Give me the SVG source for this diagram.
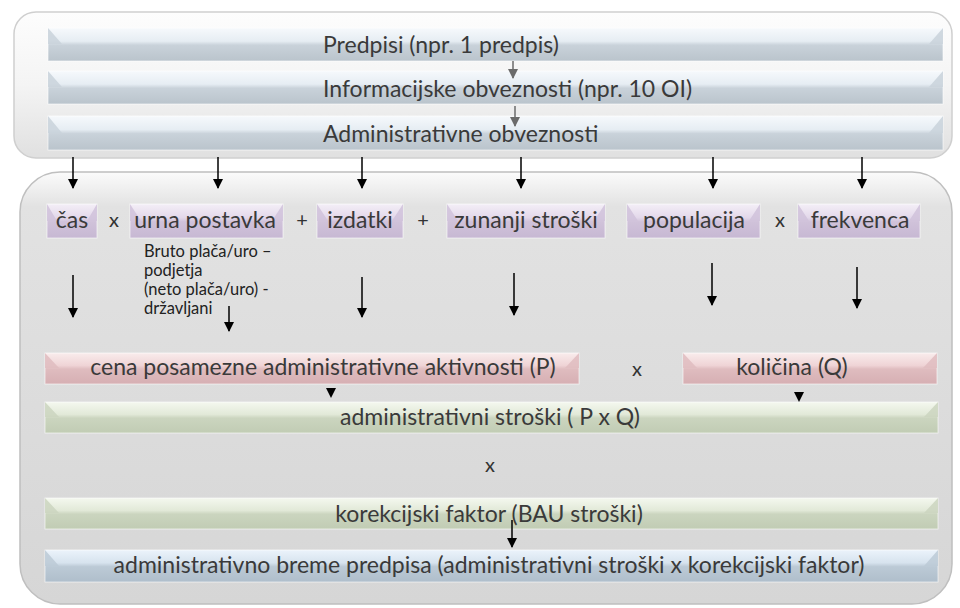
<svg xmlns="http://www.w3.org/2000/svg" width="960" height="608" viewBox="0 0 960 608">
<defs>
<linearGradient id="gOuter1" x1="0" y1="0" x2="0" y2="1">
<stop offset="0" stop-color="#fdfdfd"/><stop offset="0.5" stop-color="#f4f4f4"/><stop offset="1" stop-color="#e0e0e0"/>
</linearGradient>
<linearGradient id="gOuter2" x1="0" y1="0" x2="0" y2="1">
<stop offset="0" stop-color="#fbfbfb"/><stop offset="0.08" stop-color="#e2e2e2"/><stop offset="1" stop-color="#d6d6d6"/>
</linearGradient>
<linearGradient id="gBlue" x1="0" y1="0" x2="0" y2="1">
<stop offset="0" stop-color="#f6f9fc"/><stop offset="0.4" stop-color="#e6edf3"/><stop offset="0.52" stop-color="#c9d2da"/><stop offset="1" stop-color="#bac4cc"/>
</linearGradient>
<linearGradient id="gPurple" x1="0" y1="0" x2="0" y2="1">
<stop offset="0" stop-color="#f4eff7"/><stop offset="0.4" stop-color="#e3d8ea"/><stop offset="0.52" stop-color="#d0c2da"/><stop offset="1" stop-color="#c7b8d3"/>
</linearGradient>
<linearGradient id="gPink" x1="0" y1="0" x2="0" y2="1">
<stop offset="0" stop-color="#f9ecec"/><stop offset="0.4" stop-color="#efd4d6"/><stop offset="0.52" stop-color="#dfbcbf"/><stop offset="1" stop-color="#d6afb3"/>
</linearGradient>
<linearGradient id="gGreen" x1="0" y1="0" x2="0" y2="1">
<stop offset="0" stop-color="#f4f8ef"/><stop offset="0.4" stop-color="#e2e9d8"/><stop offset="0.52" stop-color="#cbd5bf"/><stop offset="1" stop-color="#c1ccb4"/>
</linearGradient>
<linearGradient id="gSteel" x1="0" y1="0" x2="0" y2="1">
<stop offset="0" stop-color="#ebf3fb"/><stop offset="0.4" stop-color="#d7e3ee"/><stop offset="0.52" stop-color="#bccad6"/><stop offset="1" stop-color="#afbecb"/>
</linearGradient>
<marker id="ah" markerWidth="10" markerHeight="10" refX="9" refY="5" orient="auto" markerUnits="userSpaceOnUse">
<path d="M0,0 L10,5 L0,10 Z" fill="#000"/>
</marker>
<marker id="ahg" markerWidth="10" markerHeight="10" refX="9" refY="5" orient="auto" markerUnits="userSpaceOnUse">
<path d="M0,0 L10,5 L0,10 Z" fill="#6b6b6b"/>
</marker>
</defs>
<style>
text{font-family:Lato,"Liberation Sans",sans-serif;fill:#3a3a3a;}
.t{font-size:23px;}
.s{font-size:16.5px;fill:#222;}
.op{font-size:20px;text-anchor:middle;fill:#333;}
.c{text-anchor:middle;}
.bar{stroke:#ffffff;stroke-opacity:0.6;stroke-width:1;}
.bv{fill-opacity:0.85;}
.ar{stroke:#000;stroke-width:1.5;fill:none;marker-end:url(#ah);}
.arg{stroke:#6b6b6b;stroke-width:1.5;fill:none;marker-end:url(#ahg);}
</style>
<rect width="960" height="608" fill="#ffffff"/>

<g id="container-top">
<rect x="14" y="12" width="938" height="146" rx="22" fill="url(#gOuter1)" stroke="#cfcfcf" stroke-width="1.5"/>
</g>
<g id="container-bottom">
<rect x="20" y="172" width="932" height="432" rx="40" fill="url(#gOuter2)" stroke="#bfbfbf" stroke-width="1.5"/>
</g>

<g id="predpisi">
<rect class="bar" x="48" y="28" width="895" height="33" fill="url(#gBlue)"/>
<path class="bv" d="M48,28 L62,44 L48,44 Z M943,28 L929,44 L943,44 Z" fill="#c9d2da"/>
<text class="t" x="323" y="53">Predpisi (npr. 1 predpis)</text>
</g>
<g id="informacijske">
<rect class="bar" x="48" y="71" width="895" height="33" fill="url(#gBlue)"/>
<path class="bv" d="M48,71 L62,87 L48,87 Z M943,71 L929,87 L943,87 Z" fill="#c9d2da"/>
<text class="t" x="323" y="97">Informacijske obveznosti (npr. 10 OI)</text>
</g>
<g id="administrativne">
<rect class="bar" x="48" y="116" width="895" height="34" fill="url(#gBlue)"/>
<path class="bv" d="M48,116 L62,133 L48,133 Z M943,116 L929,133 L943,133 Z" fill="#c9d2da"/>
<text class="t" x="323" y="142">Administrativne obveznosti</text>
</g>

<g id="cas">
<rect class="bar" x="47" y="204" width="50" height="34" fill="url(#gPurple)"/>
<path class="bv" d="M47,204 L57,221 L47,221 Z M97,204 L87,221 L97,221 Z" fill="#d0c2da"/>
<text class="t c" x="72" y="228">čas</text>
</g>
<g id="urna">
<rect class="bar" x="130" y="204" width="153" height="34" fill="url(#gPurple)"/>
<path class="bv" d="M130,204 L141,221 L130,221 Z M283,204 L272,221 L283,221 Z" fill="#d0c2da"/>
<text class="t c" x="205" y="228">urna postavka</text>
</g>
<g id="izdatki">
<rect class="bar" x="317" y="204" width="86" height="34" fill="url(#gPurple)"/>
<path class="bv" d="M317,204 L328,221 L317,221 Z M403,204 L392,221 L403,221 Z" fill="#d0c2da"/>
<text class="t c" x="360" y="228">izdatki</text>
</g>
<g id="zunanji">
<rect class="bar" x="447" y="204" width="158" height="34" fill="url(#gPurple)"/>
<path class="bv" d="M447,204 L458,221 L447,221 Z M605,204 L594,221 L605,221 Z" fill="#d0c2da"/>
<text class="t c" x="526" y="228">zunanji stroški</text>
</g>
<g id="populacija">
<rect class="bar" x="627" y="204" width="133" height="34" fill="url(#gPurple)"/>
<path class="bv" d="M627,204 L638,221 L627,221 Z M760,204 L749,221 L760,221 Z" fill="#d0c2da"/>
<text class="t c" x="694" y="228">populacija</text>
</g>
<g id="frekvenca">
<rect class="bar" x="798" y="204" width="122" height="34" fill="url(#gPurple)"/>
<path class="bv" d="M798,204 L809,221 L798,221 Z M920,204 L909,221 L920,221 Z" fill="#d0c2da"/>
<text class="t c" x="860" y="228">frekvenca</text>
</g>

<g id="operators">
<text class="op" x="114" y="227">x</text>
<text class="op" x="302" y="227">+</text>
<text class="op" x="423" y="227">+</text>
<text class="op" x="780" y="227">x</text>
<text class="op" x="637" y="376">x</text>
<text class="op" x="490" y="472">x</text>
</g>

<g id="note">
<text class="s" x="144" y="257">Bruto plača/uro –</text>
<text class="s" x="144" y="276">podjetja</text>
<text class="s" x="144" y="295">(neto plača/uro) -</text>
<text class="s" x="144" y="314">državljani</text>
</g>

<g id="cena">
<rect class="bar" x="45" y="353" width="534" height="31" fill="url(#gPink)"/>
<path class="bv" d="M45,353 L59,368 L45,368 Z M579,353 L565,368 L579,368 Z" fill="#dfbcbf"/>
<text class="t c" x="323" y="375">cena posamezne administrativne aktivnosti (P)</text>
</g>
<g id="kolicina">
<rect class="bar" x="683" y="353" width="254" height="31" fill="url(#gPink)"/>
<path class="bv" d="M683,353 L697,368 L683,368 Z M937,353 L923,368 L937,368 Z" fill="#dfbcbf"/>
<text class="t c" x="792" y="375">količina (Q)</text>
</g>
<g id="stroski">
<rect class="bar" x="45" y="402" width="893" height="31" fill="url(#gGreen)"/>
<path class="bv" d="M45,402 L59,417 L45,417 Z M938,402 L924,417 L938,417 Z" fill="#cbd5bf"/>
<text class="t c" x="490" y="425">administrativni stroški ( P x Q)</text>
</g>
<g id="korekcijski">
<rect class="bar" x="45" y="498" width="893" height="31" fill="url(#gGreen)"/>
<path class="bv" d="M45,498 L59,513 L45,513 Z M938,498 L924,513 L938,513 Z" fill="#cbd5bf"/>
<text class="t c" x="489" y="522">korekcijski faktor (BAU stroški)</text>
</g>
<g id="breme">
<rect class="bar" x="45" y="550" width="893" height="32" fill="url(#gSteel)"/>
<path class="bv" d="M45,550 L59,566 L45,566 Z M938,550 L924,566 L938,566 Z" fill="#bccad6"/>
<text class="t c" x="489" y="573">administrativno breme predpisa (administrativni stroški x korekcijski faktor)</text>
</g>

<g id="connectors">
<line class="arg" x1="513" y1="61" x2="513" y2="78"/>
<line class="arg" x1="515" y1="106" x2="515" y2="126"/>
<line class="ar" x1="73" y1="157" x2="73" y2="188"/>
<line class="ar" x1="218" y1="157" x2="218" y2="188"/>
<line class="ar" x1="362" y1="157" x2="362" y2="188"/>
<line class="ar" x1="521" y1="157" x2="521" y2="188"/>
<line class="ar" x1="713" y1="157" x2="713" y2="188"/>
<line class="ar" x1="862" y1="157" x2="862" y2="188"/>
<line class="ar" x1="73" y1="275" x2="73" y2="317"/>
<line class="ar" x1="229" y1="306" x2="229" y2="331"/>
<line class="ar" x1="362" y1="277" x2="362" y2="317"/>
<line class="ar" x1="514" y1="273" x2="514" y2="315"/>
<line class="ar" x1="712" y1="263" x2="712" y2="305"/>
<line class="ar" x1="857" y1="267" x2="857" y2="308"/>
<path d="M326,388 L336,388 L331,398 Z" fill="#000"/>
<path d="M794,392 L804,392 L799,402 Z" fill="#000"/>
<line class="ar" x1="512" y1="520" x2="512" y2="547"/>
</g>
</svg>
